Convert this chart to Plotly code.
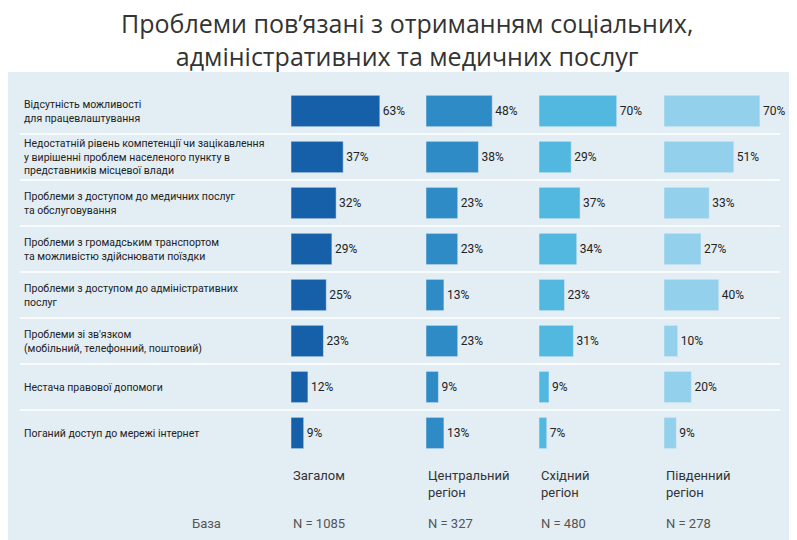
import plotly.graph_objects as go

categories = [
    "Відсутність можливості<br>для працевлаштування",
    "Недостатній рівень компетенції чи зацікавлення<br>у вирішенні проблем населеного пункту в<br>представників місцевої влади",
    "Проблеми з доступом до медичних послуг<br>та обслуговування",
    "Проблеми з громадським транспортом<br>та можливістю здійснювати поїздки",
    "Проблеми з доступом до адміністративних<br>послуг",
    "Проблеми зі зв'язком<br>(мобільний, телефонний, поштовий)",
    "Нестача правової допомоги",
    "Поганий доступ до мережі інтернет",
]
total = [63, 37, 32, 29, 25, 23, 12, 9]
central = [48, 38, 23, 23, 13, 23, 9, 13]
east = [70, 29, 37, 34, 23, 31, 9, 7]
south = [70, 51, 33, 27, 40, 10, 20, 9]
panel_names = ["Загалом", "Центральний<br>регіон", "Східний<br>регіон", "Південний<br>регіон"]
bases = ["N = 1085", "N = 327", "N = 480", "N = 278"]

W, H = 797, 540
OFF = 8  # page body margin


def px(x):
    return (x - OFF) / W


def py(y):
    return 1 - (y - OFF) / H


panels = [(total, 291, 1.41, "#1560a8"), (central, 426, 1.38, "#2f8bc6"),
          (east, 539, 1.11, "#52b8e0"), (south, 664, 1.37, "#92d0ec")]
rows = list(range(len(categories)))

fig = go.Figure()
layout = {}
for i, (vals, start, ppp, color) in enumerate(panels):
    ax = "" if i == 0 else str(i + 1)
    width_px = 125
    fig.add_trace(go.Bar(
        x=vals, y=rows, orientation="h", xaxis="x" + ax, yaxis="y",
        marker=dict(color=color), width=0.68,
        text=[f"{v}%" for v in vals], textposition="outside",
        textfont=dict(family="Roboto", size=12, color="#222"),
        cliponaxis=False, showlegend=False,
    ))
    layout["xaxis" + ax] = dict(domain=[px(start), px(start + width_px)],
                                range=[0, width_px / ppp], visible=False, fixedrange=True)
    fig.add_annotation(x=px(start), y=py(466), xref="paper", yref="paper",
                       text=panel_names[i], showarrow=False, xanchor="left", yanchor="top",
                       align="left", font=dict(family="Roboto", size=13, color="#333"))
    fig.add_annotation(x=px(start), y=py(523), xref="paper", yref="paper",
                       text=bases[i], showarrow=False, xanchor="left", yanchor="middle",
                       font=dict(family="Roboto", size=13, color="#555"))

fig.add_annotation(x=px(190), y=py(523), xref="paper", yref="paper", text="База",
                   showarrow=False, xanchor="left", yanchor="middle",
                   font=dict(family="Roboto", size=13, color="#555"))

fig.add_annotation(x=0.5, y=py(4), xref="paper", yref="paper", yanchor="top",
                   text="Проблеми пов’язані з отриманням соціальних,<br>адміністративних та медичних послуг",
                   showarrow=False, font=dict(family="Open Sans", size=25, color="#333"))

for r, c in zip(rows, categories):
    fig.add_annotation(x=px(22), y=r, xref="paper", yref="y", text=c, showarrow=False,
                       xanchor="left", align="left",
                       font=dict(family="Roboto", size=10.5, color="#222"))
    if r < len(rows) - 1:
        fig.add_shape(type="line", xref="paper", yref="y", x0=px(20), x1=px(780),
                      y0=r + 0.5, y1=r + 0.5, line=dict(color="white", width=1.5))

fig.add_shape(type="rect", xref="paper", yref="paper", x0=0, x1=1, y0=0, y1=py(72),
              fillcolor="#e3edf4", line_width=0, layer="below")

fig.update_layout(
    width=W, height=H, margin=dict(l=0, r=0, t=0, b=0),
    paper_bgcolor="white", plot_bgcolor="rgba(0,0,0,0)",
    yaxis=dict(domain=[py(456), py(88)], range=[len(rows) - 0.5, -0.5],
               visible=False, fixedrange=True),
    bargap=0.3,
    **layout,
)

fig.write_html("out.html")
